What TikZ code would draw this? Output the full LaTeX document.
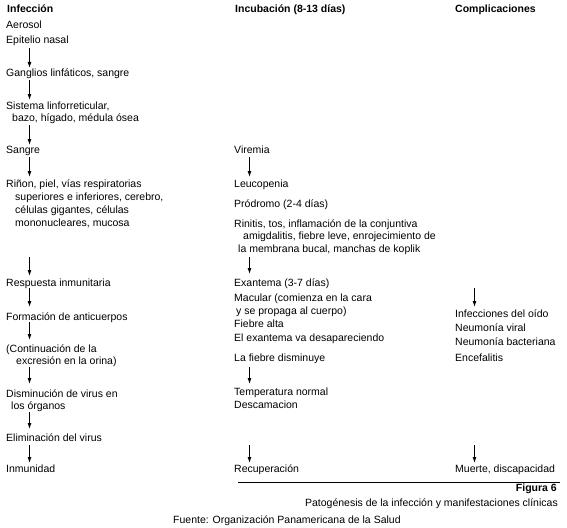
\documentclass[tikz,border=0pt]{standalone}
\usepackage{fontspec}
\setmainfont{Liberation Sans}
\usetikzlibrary{arrows.meta}
\begin{document}
\begin{tikzpicture}[x=1pt,y=-1pt,
  txt/.style={anchor=base west, inner sep=0pt, align=left, font=\fontsize{10.5}{12.5}\selectfont},
  hdr/.style={anchor=base west, inner sep=0pt, font=\fontsize{10.5}{12.5}\selectfont\bfseries},
  arr/.style={line width=0.9pt, -{Latex[length=6pt,width=4pt]}},
  rule/.style={line width=0.9pt}]
\useasboundingbox (0,0) rectangle (567,527);
% headers
\node[hdr] (hd1) at (7,13) {Infección};
\node[hdr] (hd2) at (235,13) {Incubación (8-13 días)};
\node[hdr] (hd3) at (455,13) {Complicaciones};
% column 1 (multi-line nodes are placed by the baseline of their last line)
\node[txt] (aer) at (6,29) {Aerosol};
\node[txt] (epi) at (6,44) {Epitelio nasal};
\node[txt] (gan) at (6,76) {Ganglios linfáticos, sangre};
\node[txt] (sis) at (6,121.5) {Sistema linforreticular,\\\hspace*{6pt}bazo, hígado, médula ósea};
\node[txt] (san) at (6,153) {Sangre};
\node[txt, font=\fontsize{10.5}{13}\selectfont] (rin) at (6,226) {Riñon, piel, vías respiratorias\\\hspace*{9pt}superiores e inferiores, cerebro,\\\hspace*{9pt}células gigantes, células\\\hspace*{9pt}mononucleares, mucosa};
\node[txt] (res) at (6,286) {Respuesta inmunitaria};
\node[txt] (for) at (6,320) {Formación de anticuerpos};
\node[txt] (con) at (6,364.5) {(Continuación de la\\\hspace*{10pt}excresión en la orina)};
\node[txt] (dis) at (6,409.5) {Disminución de virus en\\\hspace*{5pt}los órganos};
\node[txt] (eli) at (6,441) {Eliminación del virus};
\node[txt] (inm) at (6,472) {Inmunidad};
% column 2
\node[txt] (vir) at (234,153) {Viremia};
\node[txt] (leu) at (234,187) {Leucopenia};
\node[txt] (pro) at (234,207) {Pródromo (2-4 días)};
\node[txt] (rinit) at (234,252) {Rinitis, tos, inflamación de la conjuntiva\\\hspace*{9pt}amigdalitis, fiebre leve, enrojecimiento de\\\hspace*{4pt}la membrana bucal, manchas de koplik};
\node[txt] (exa) at (234,286) {Exantema (3-7 días)};
\node[txt] (mac) at (234,314) {Macular (comienza en la cara\\\hspace*{2pt}y se propaga al cuerpo)};
\node[txt] (fie) at (234,327) {Fiebre alta};
\node[txt] (eld) at (234,341) {El exantema va desapareciendo};
\node[txt] (lfd) at (234,361) {La fiebre disminuye};
\node[txt] (tem) at (234,395.5) {Temperatura normal};
\node[txt] (des) at (234,408) {Descamacion};
\node[txt] (rec) at (234,472) {Recuperación};
% column 3
\node[txt] (inf) at (455,317) {Infecciones del oído};
\node[txt] (nv) at (455,331) {Neumonía viral};
\node[txt] (nb) at (455,345) {Neumonía bacteriana};
\node[txt] (enc) at (455,361) {Encefalitis};
\node[txt] (mue) at (455,472) {Muerte, discapacidad};
% arrows column 1
\foreach \n/\a/\b in {1/48/68, 2/80/100, 3/125/145, 4/157/177, 5/257/276, 6/288/307, 7/322/340, 8/367/384, 9/412/429, 10/445/463}{
  \coordinate (c1s\n) at (29.5,\a);
  \coordinate (c1e\n) at (29.5,\b);
  \draw[arr] (c1s\n) -- (c1e\n);
}
% arrows column 2
\foreach \n/\a/\b in {1/157/177, 2/257/274, 3/367/384, 4/445/463}{
  \coordinate (c2s\n) at (249.5,\a);
  \coordinate (c2e\n) at (249.5,\b);
  \draw[arr] (c2s\n) -- (c2e\n);
}
% arrows column 3
\foreach \n/\a/\b in {1/288/307, 2/445/463}{
  \coordinate (c3s\n) at (474.5,\a);
  \coordinate (c3e\n) at (474.5,\b);
  \draw[arr] (c3s\n) -- (c3e\n);
}
% footer
\coordinate (rl) at (238,482);
\coordinate (rr) at (560,482);
\draw[rule] (rl) -- (rr);
\node[hdr, anchor=base east] (fig) at (557,491.5) {Figura 6};
\node[txt, anchor=base east] (pat) at (558,506) {Patogénesis de la infección y manifestaciones clínicas};
\node[txt] (fue) at (173,523) {Fuente: Organización Panamericana de la Salud};
\end{tikzpicture}
\end{document}
